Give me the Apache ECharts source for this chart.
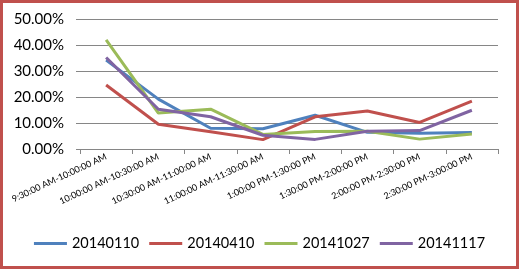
<!DOCTYPE html>
<html><head><meta charset="utf-8">
<script src="https://cdn.jsdelivr.net/npm/echarts@6/dist/echarts.min.js"></script>
<style>
html,body{margin:0;padding:0;background:#fff;}
#wrap{position:absolute;left:0;top:0;width:519px;height:269px;box-sizing:border-box;border:3px solid #C0504D;}
#c{position:absolute;left:0;top:0;width:519px;height:269px;}
</style></head><body>
<div id="c"></div><div id="wrap"></div>
<script>
const categories = ["9:30:00 AM-10:00:00 AM","10:00:00 AM-10:30:00 AM","10:30:00 AM-11:00:00 AM","11:00:00 AM-11:30:00 AM","1:00:00 PM-1:30:00 PM","1:30:00 PM-2:00:00 PM","2:00:00 PM-2:30:00 PM","2:30:00 PM-3:00:00 PM"];
const seriesNames = ["20140110","20140410","20141027","20141117"];
const s20140110 = [0.342,0.192,0.080,0.078,0.130,0.064,0.061,0.063];
const s20140410 = [0.246,0.095,0.066,0.036,0.124,0.146,0.102,0.184];
const s20141027 = [0.420,0.138,0.153,0.056,0.067,0.068,0.038,0.058];
const s20141117 = [0.352,0.153,0.124,0.053,0.037,0.068,0.071,0.149];
const yTicks = [0,0.1,0.2,0.3,0.4,0.5];
const colors = ["#4F81BD","#C0504D","#9BBB59","#8064A2"];
const values = [s20140110,s20140410,s20141027,s20141117];
const chart = echarts.init(document.getElementById('c'));
chart.setOption({
  animation:false,
  color:colors,
  grid:{left:80,right:21,top:19,bottom:120,containLabel:false},
  legend:{bottom:13,left:'center',itemWidth:33,itemHeight:3,itemGap:10,icon:'rect',
    textStyle:{fontFamily:'Lato',fontSize:14.5,color:'#000'},
    data:seriesNames},
  xAxis:{type:'category',data:categories,boundaryGap:true,
    axisLine:{lineStyle:{color:'#868686',width:1}},
    axisTick:{show:true,length:5,lineStyle:{color:'#868686'}},
    axisLabel:{rotate:25,fontFamily:'Lato',fontSize:9,color:'#000',margin:7,interval:0}},
  yAxis:{type:'value',min:yTicks[0],max:yTicks[yTicks.length-1],interval:0.1,
    axisLine:{show:false},
    axisTick:{show:true,length:4,lineStyle:{color:'#868686'}},
    splitLine:{lineStyle:{color:'#868686',width:1}},
    axisLabel:{fontFamily:'Lato',fontSize:15,color:'#000',margin:16,
      formatter:v=>(v*100).toFixed(2)+'%'}},
  series:seriesNames.map((n,i)=>({name:n,type:'line',data:values[i],symbol:'none',
    lineStyle:{width:3,color:colors[i]}}))
});
</script></body></html>
